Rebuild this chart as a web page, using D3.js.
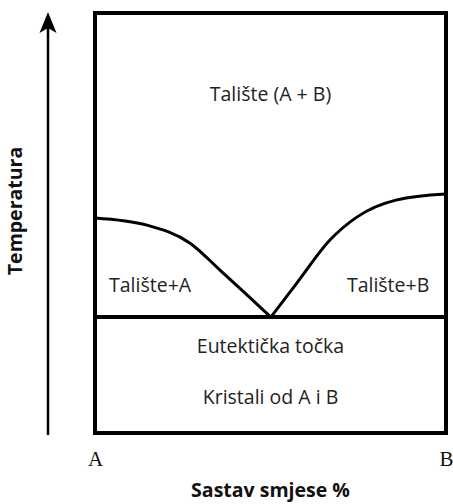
<!DOCTYPE html>
<html>
<head>
<meta charset="utf-8">
<script src="https://cdn.jsdelivr.net/npm/d3@7"></script>
<style>
  body { margin: 0; background: #fff; }
  .region { font-family: "Open Sans", sans-serif; font-size: 19.5px; fill: #222; text-anchor: middle; }
  .axis-label { font-family: "Open Sans", sans-serif; font-weight: bold; font-size: 19.5px; fill: #111; text-anchor: middle; }
  .end-label text { font-family: "Liberation Serif", serif; font-size: 21px; fill: #111; }
</style>
</head>
<body>
<svg class="phase-chart"></svg>
<script>
// composition (% B) and temperature (relative)
var liquidusA = [
  {x: 0, t: 51.2}, {x: 14.8, t: 49.5}, {x: 27.1, t: 45.2},
  {x: 35.6, t: 38.8}, {x: 43.3, t: 32.9}, {x: 50.1, t: 27.6}
];
var liquidusB = [
  {x: 50.1, t: 27.6}, {x: 57.5, t: 35.7}, {x: 67, t: 46},
  {x: 74.6, t: 51.4}, {x: 86, t: 55.5}, {x: 100, t: 56.9}
];
var eutecticT = 27.6;
var endTicks = [0, 100];
var endNames = ["A", "B"];
var regions = [
  {label: "Talište (A + B)", x: 50, t: 79},
  {label: "Talište+A", x: 15.7, t: 33.5},
  {label: "Talište+B", x: 83.5, t: 33.5},
  {label: "Eutektička točka", x: 50, t: 19},
  {label: "Kristali od A i B", x: 50, t: 7}
];

var margin = {top: 13, right: 7, bottom: 71, left: 95};
var width = 453 - margin.left - margin.right;
var height = 504 - margin.top - margin.bottom;

var x = d3.scaleLinear().domain([0, 100]).range([0, width]);
var y = d3.scaleLinear().domain([0, 100]).range([height, 0]);

var svg = d3.select(".phase-chart")
  .attr("width", 453)
  .attr("height", 504);

svg.append("defs").append("marker")
  .attr("id", "arrow")
  .attr("viewBox", "0 0 21 18")
  .attr("refX", 11)
  .attr("refY", 9)
  .attr("markerWidth", 21)
  .attr("markerHeight", 18)
  .attr("markerUnits", "userSpaceOnUse")
  .attr("orient", "auto")
  .append("path")
  .attr("d", "M0,0.5 L21,9 L0,17.5 L5,9 Z")
  .attr("fill", "#000");

var chart = svg.append("g")
  .attr("transform", "translate(" + margin.left + "," + margin.top + ")");

// temperature arrow
chart.append("line")
  .attr("x1", -47).attr("x2", -47)
  .attr("y1", y(0) + 2).attr("y2", y(100) + 9)
  .attr("stroke", "#000")
  .attr("stroke-width", 2.5)
  .attr("marker-end", "url(#arrow)");

chart.append("text")
  .attr("class", "axis-label")
  .attr("transform", "rotate(-90)")
  .attr("x", -(211 - margin.top))
  .attr("y", 22 - margin.left)
  .text("Temperatura");

// eutectic line
chart.append("line")
  .attr("x1", x(0)).attr("x2", x(100))
  .attr("y1", y(eutecticT)).attr("y2", y(eutecticT))
  .attr("stroke", "#000")
  .attr("stroke-width", 4);

var line = d3.line()
  .x(function(d) { return x(d.x); })
  .y(function(d) { return y(d.t); })
  .curve(d3.curveMonotoneX);

chart.selectAll(".liquidus")
  .data([liquidusA, liquidusB])
  .enter().append("path")
  .attr("class", "liquidus")
  .attr("d", line)
  .attr("fill", "none")
  .attr("stroke", "#000")
  .attr("stroke-width", 3);

// frame
chart.append("rect")
  .attr("x", x(0)).attr("y", y(100))
  .attr("width", x(100) - x(0))
  .attr("height", y(0) - y(100))
  .attr("fill", "none")
  .attr("stroke", "#000")
  .attr("stroke-width", 4);

chart.selectAll(".region")
  .data(regions)
  .enter().append("text")
  .attr("class", "region")
  .attr("x", function(d) { return x(d.x); })
  .attr("y", function(d) { return y(d.t); })
  .text(function(d) { return d.label; });

var xAxis = d3.axisBottom(x)
  .tickValues(endTicks)
  .tickSize(0)
  .tickPadding(0)
  .tickFormat(function(d, i) { return endNames[i]; });

chart.append("g")
  .attr("class", "end-label")
  .attr("transform", "translate(0," + (height + 18) + ")")
  .call(xAxis)
  .call(function(g) { g.select(".domain").remove(); })
  .selectAll("text")
  .attr("dy", "0.71em");

chart.append("text")
  .attr("class", "axis-label")
  .attr("x", x(50))
  .attr("y", 497 - margin.top)
  .text("Sastav smjese %");
</script>
</body>
</html>
